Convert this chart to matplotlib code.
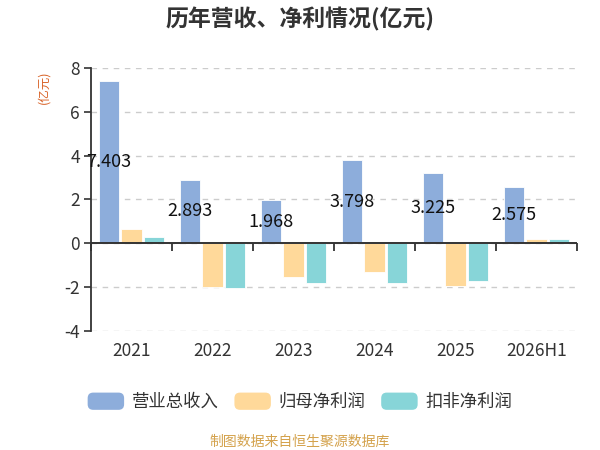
import matplotlib
matplotlib.use("Agg")
import matplotlib.pyplot as plt
from matplotlib.patches import FancyBboxPatch
from matplotlib.legend_handler import HandlerPatch
import matplotlib.markers as mmarkers
import numpy as np

plt.rcParams['font.family'] = ['Noto Sans CJK SC', 'DejaVu Sans']

categories = ["2021", "2022", "2023", "2024", "2025", "2026H1"]
revenue = [7.403, 2.893, 1.968, 3.798, 3.225, 2.575]
net_profit = [0.63, -1.98, -1.55, -1.32, -1.96, 0.20]
deducted_profit = [0.28, -2.03, -1.82, -1.82, -1.73, 0.17]
series_names = ["营业总收入", "归母净利润", "扣非净利润"]
colors = ["#8DADDB", "#FFD99A", "#87D5D8"]
yticks = [-4, -2, 0, 2, 4, 6, 8]

fig = plt.figure(figsize=(6, 4.5), dpi=100)
ax = fig.add_axes([0.1517, 0.265, 0.81, 0.584])

x = np.arange(len(categories))
w = 0.25
off = 0.28
bars = []
for i, (vals, c) in enumerate(zip([revenue, net_profit, deducted_profit], colors)):
    b = ax.bar(x + (i - 1) * off, vals, width=w, color=c, edgecolor="#FFFFFF",
               linewidth=0.6, zorder=3, label=series_names[i])
    bars.append(b)

for xi, v in zip(x, revenue):
    ax.text(xi - off, v / 2, f"{v:.3f}", ha="center", va="center",
            fontsize=13, color="#111111", zorder=5)

ax.set_xlim(-0.5, len(categories) - 0.5)
ax.set_ylim(-4, 8)
ax.set_yticks(yticks)
ax.set_yticklabels([str(t) for t in yticks], fontsize=12.5, color="#333333")
ax.set_xticks(x)
ax.set_xticklabels(categories, fontsize=12.5, color="#333333")
ax.tick_params(axis="x", length=0, pad=8)
ax.tick_params(axis="y", length=5, width=1.2, color="#333333", pad=3)

for s in ["top", "right", "bottom"]:
    ax.spines[s].set_visible(False)
ax.spines["left"].set_color("#333333")
ax.spines["left"].set_linewidth(1.3)

ax.yaxis.grid(True, linestyle=(0, (4, 4)), color="#CCCCCC", linewidth=1, zorder=0)
ax.set_axisbelow(True)

# zero line with boundary ticks
ax.axhline(0, color="#333333", linewidth=1.4, zorder=4)
bounds = np.arange(len(categories) + 1) - 0.5
ax.plot(bounds, np.zeros_like(bounds), linestyle="none", marker=mmarkers.TICKDOWN,
        markersize=6, markeredgewidth=1.3, color="#333333", zorder=4, clip_on=False)

fig.text(0.5, 0.958, "历年营收、净利情况(亿元)", ha="center", va="center",
         fontsize=16.5, fontweight="bold", color="#333333")
fig.text(0.073, 0.806, "(亿元)", ha="center", va="center", rotation=90,
         fontsize=9, color="#D9652B")
fig.text(0.5, 0.018, "制图数据来自恒生聚源数据库", ha="center", va="center",
         fontsize=10, color="#D4A24C")


class RoundHandler(HandlerPatch):
    def create_artists(self, legend, orig_handle, xdescent, ydescent, width,
                       height, fontsize, trans):
        p = FancyBboxPatch((-xdescent, -ydescent), width, height,
                           boxstyle="round,pad=0,rounding_size=4",
                           facecolor=orig_handle.get_facecolor(),
                           edgecolor="none", transform=trans)
        return [p]


handles = [b.patches[0] for b in bars]
leg = fig.legend(handles, series_names, loc="center", bbox_to_anchor=(0.5, 0.107),
                 ncol=3, frameon=False, fontsize=12.5, handlelength=2.1,
                 handleheight=1.15, handletextpad=0.45, columnspacing=0.9,
                 handler_map={h: RoundHandler() for h in handles})
for t in leg.get_texts():
    t.set_color("#333333")

fig.savefig("out.png", dpi=100)
